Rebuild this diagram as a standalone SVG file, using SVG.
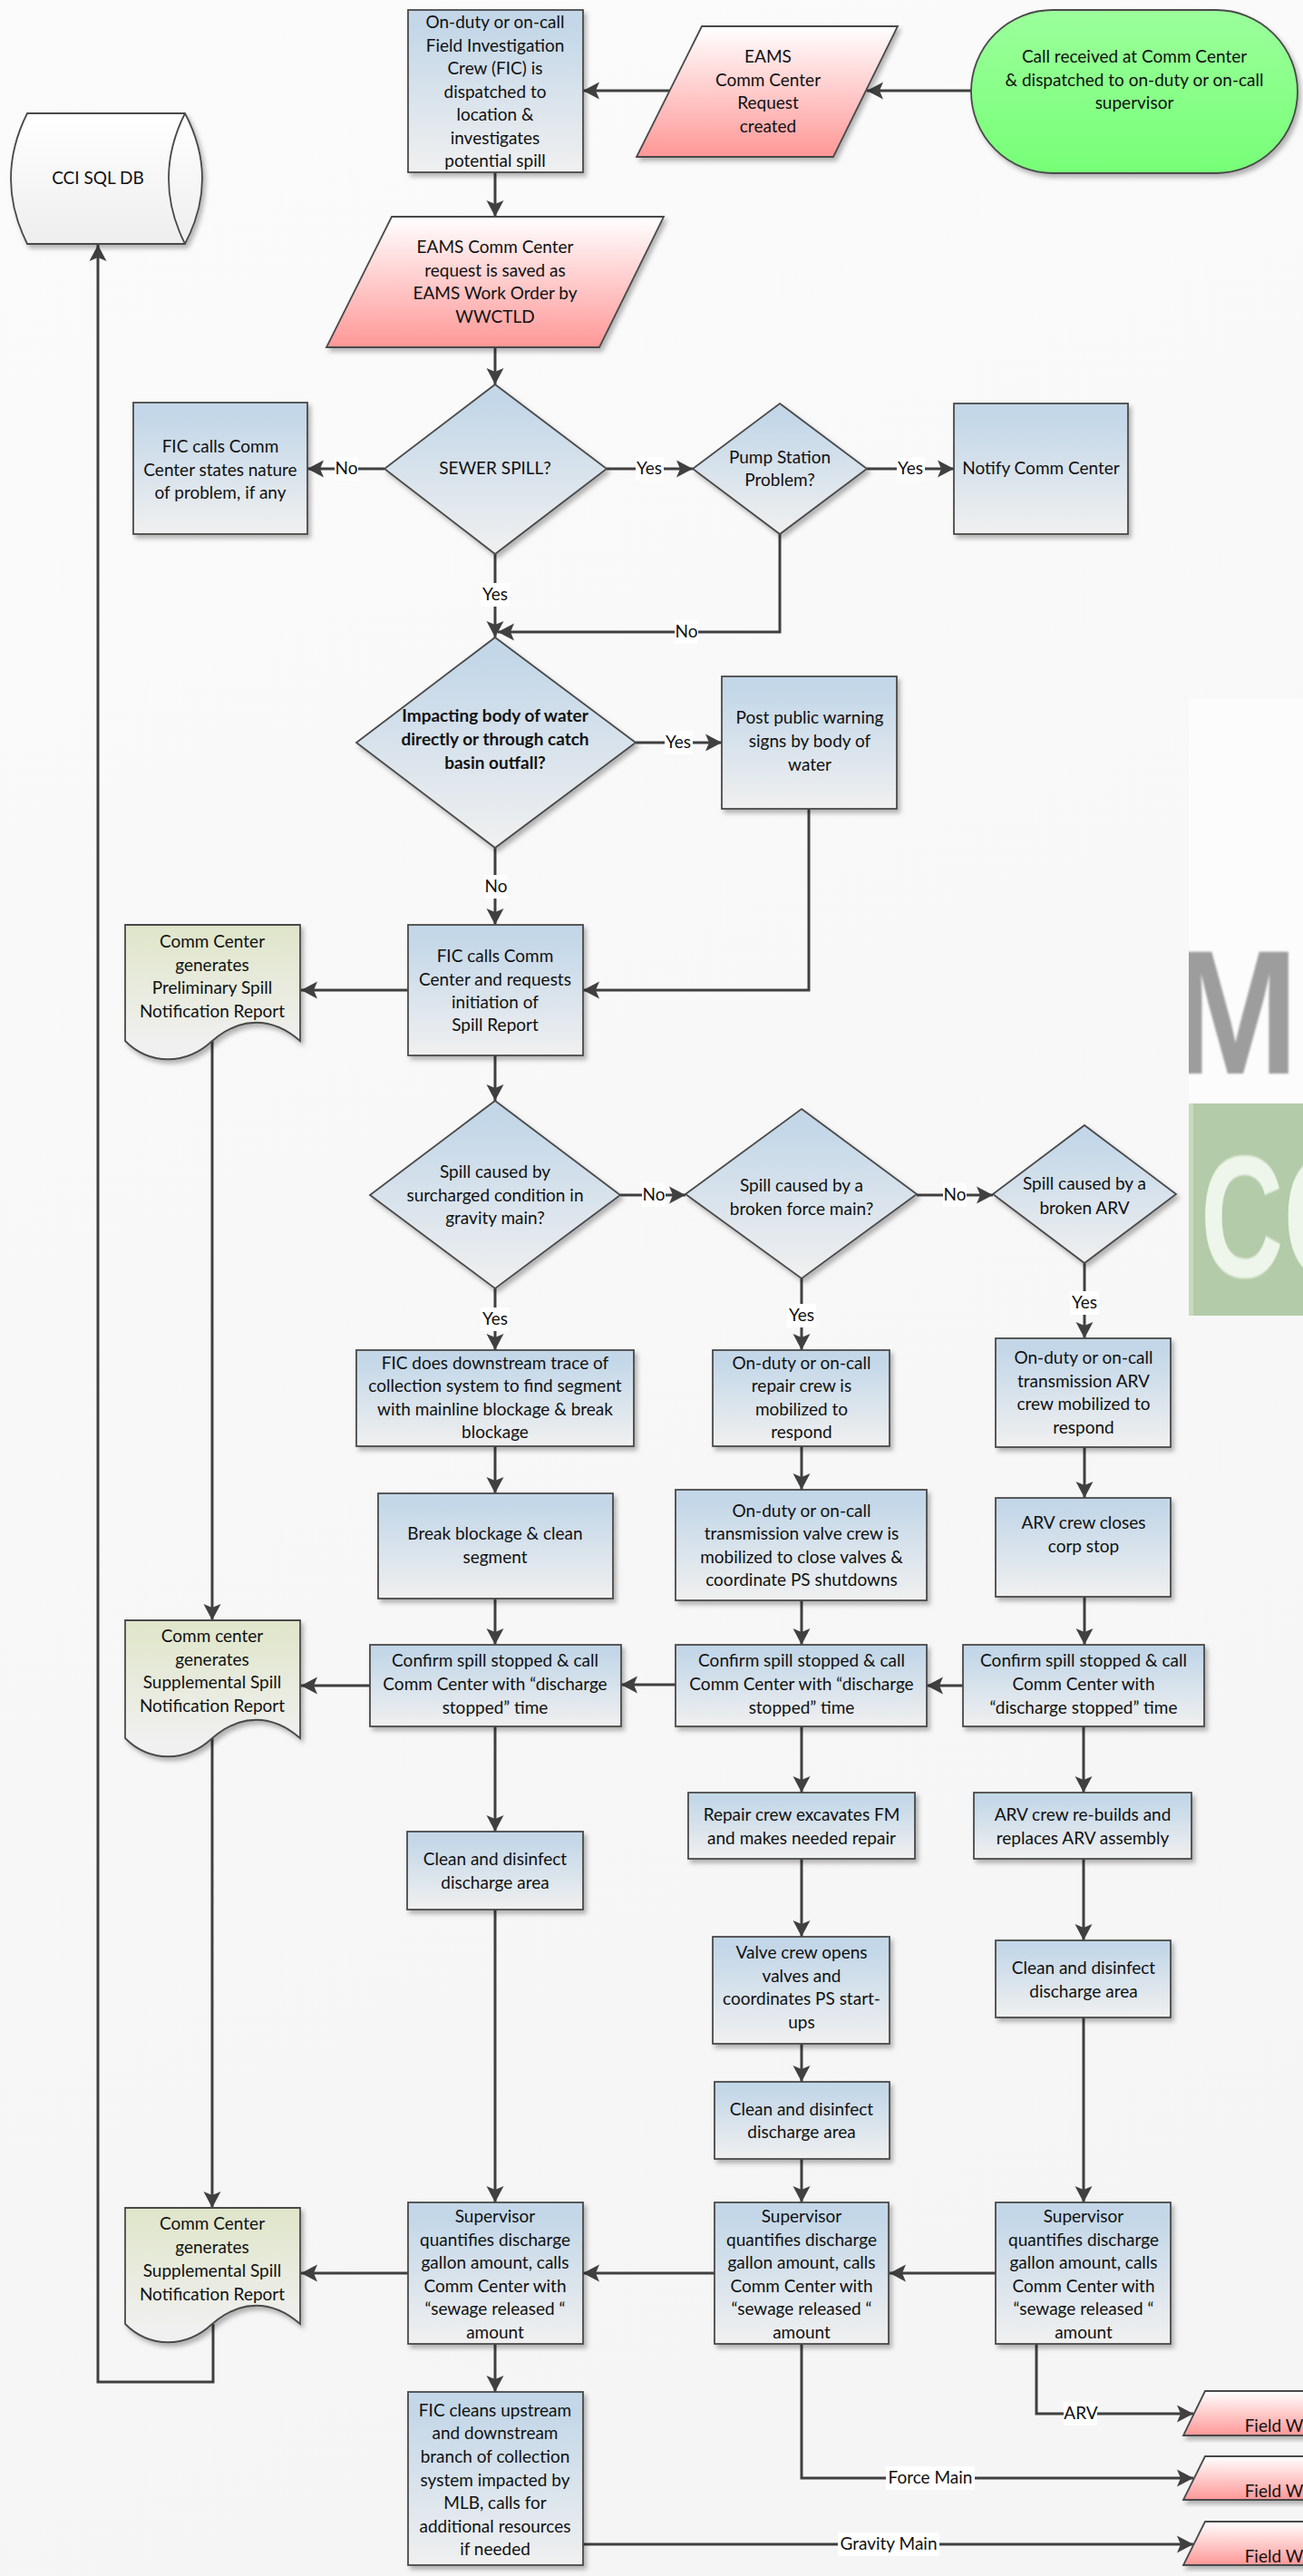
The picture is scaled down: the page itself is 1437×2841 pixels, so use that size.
<svg xmlns="http://www.w3.org/2000/svg" width="1437" height="2841" viewBox="0 0 1437 2841">
<defs>
<linearGradient id="bg" x1="0" y1="0" x2="0.2" y2="1"><stop offset="0" stop-color="#fbfbfb"/><stop offset="1" stop-color="#f5f5f5"/></linearGradient>
<linearGradient id="blue" x1="0" y1="0" x2="0" y2="1"><stop offset="0.1" stop-color="#c3d7e8"/><stop offset="1" stop-color="#f0f0f0"/></linearGradient>
<linearGradient id="red" x1="0" y1="0" x2="0" y2="1"><stop offset="0" stop-color="#ffffff"/><stop offset="1" stop-color="#ff9797"/></linearGradient>
<linearGradient id="green" x1="0" y1="0" x2="0" y2="1"><stop offset="0" stop-color="#9bff9b"/><stop offset="1" stop-color="#77ff77"/></linearGradient>
<linearGradient id="doc" x1="0" y1="0" x2="0" y2="1"><stop offset="0.05" stop-color="#e0e6cb"/><stop offset="0.9" stop-color="#f0f0f0"/></linearGradient>
<linearGradient id="db" x1="0" y1="0" x2="0" y2="1"><stop offset="0" stop-color="#ffffff"/><stop offset="1" stop-color="#eeeeee"/></linearGradient>
<filter id="sh" x="-10%" y="-10%" width="125%" height="125%"><feDropShadow dx="3" dy="4" stdDeviation="2.5" flood-color="#000" flood-opacity="0.28"/></filter>
<filter id="soft" x="-5%" y="-5%" width="110%" height="110%"><feGaussianBlur stdDeviation="1.2"/></filter>
<clipPath id="wm"><rect x="1311" y="770" width="126" height="681"/></clipPath>
<marker id="ah" markerUnits="userSpaceOnUse" markerWidth="20" markerHeight="22" refX="19" refY="11" orient="auto"><path d="M19,11 L1,1.5 L5,11 L1,20.5 Z" fill="#404040"/></marker>
<style>
text{font-family:"Lato","Liberation Sans",sans-serif;font-size:19px;fill:#111;text-anchor:middle}
.s{stroke:#4a4a4a;stroke-width:1.8;filter:url(#sh)}
.b{fill:url(#blue)}.r{fill:url(#red)}.g{fill:url(#green)}.d{fill:url(#doc)}.y{fill:url(#db)}
#connectors path{fill:none;stroke:#404040;stroke-width:3;marker-end:url(#ah)}
#connectors path.n{marker-end:none}
.lb{fill:#fff}
</style>
</defs>
<rect width="1437" height="2841" fill="url(#bg)"/>
<g id="watermark" clip-path="url(#wm)">
<rect x="1311" y="770" width="126" height="681" fill="#fcfcfc"/>
<text x="1293" y="1184" filter="url(#soft)" transform="translate(1293 0) scale(0.86 1) translate(-1293 0)" style="font-family:'Liberation Sans',sans-serif;font-weight:700;font-size:194px;fill:#9d9d9d;text-anchor:start">M</text>
<rect x="1311" y="1217" width="126" height="234" fill="#b3cba8"/>
<rect x="1311" y="1217" width="5" height="234" fill="#c6dcb9"/>
<text x="1324" y="1408" filter="url(#soft)" transform="translate(1324 0) scale(0.66 1) translate(-1324 0)" style="font-family:'Liberation Sans',sans-serif;font-weight:700;font-size:192px;fill:#eef5ea;text-anchor:start">CO</text>
</g>

<g id="connectors">
<path d="M1071,100H956"/><path d="M739,100H643"/><path d="M546,190V239"/><path d="M546,383V424"/>
<path d="M424,517H339"/><path d="M669,517H764"/><path d="M956,517H1052"/><path d="M546,611V703"/>
<path d="M860,589V697H549"/><path d="M701,819H796"/><path d="M546,935V1020"/><path d="M892,892V1092H643"/>
<path d="M450,1092H332"/><path d="M546,1164V1214"/><path d="M684,1318H756"/><path d="M1011,1318H1095"/>
<path d="M546,1421V1489"/><path d="M884,1410V1489"/><path d="M1196,1393V1476"/>
<path d="M546,1595V1647"/><path d="M546,1763V1814"/><path d="M884,1595V1643"/><path d="M884,1765V1814"/>
<path d="M1196,1596V1652"/><path d="M1196,1761V1814"/>
<path d="M1062,1859H1022"/><path d="M745,1858H685"/><path d="M408,1859H332"/>
<path d="M234,1148V1787"/><path d="M234,1917V2435"/>
<path d="M546,1904V2020"/><path d="M546,2106V2429"/>
<path d="M884,1904V1977"/><path d="M884,2050V2136"/><path d="M884,2254V2296"/><path d="M884,2381V2429"/>
<path d="M1195,1904V1977"/><path d="M1195,2050V2140"/><path d="M1195,2225V2429"/>
<path d="M1098,2507H981"/><path d="M788,2507H643"/><path d="M450,2507H332"/>
<path d="M546,2585V2638"/>
<path d="M1143,2585V2662H1316"/><path d="M884,2585V2733H1316"/><path d="M643,2806H1316"/>
<path d="M235,2563V2627H108V270"/>
</g>

<g id="n-db"><path class="s y" d="M30,125H204Q242,197 204,269H30Q-6,197 30,125Z"/><path d="M204,125Q168,197 204,269" fill="none" stroke="#4a4a4a" stroke-width="1.8"/><text x="108" y="203">CCI SQL DB</text></g>
<g id="n-start"><rect class="s g" x="1071" y="11" width="360" height="180" rx="90" ry="90"/><text x="1251" y="69">Call received at Comm Center</text><text x="1251" y="95">&amp; dispatched to on-duty or on-call</text><text x="1251" y="120">supervisor</text></g>
<g id="n-eams"><polygon class="s r" points="774,29 990,29 919,173 702,173"/><text x="847" y="69">EAMS</text><text x="847" y="95">Comm Center</text><text x="847" y="120">Request</text><text x="847" y="146">created</text></g>
<g id="n-fic"><rect class="s b" x="450" y="11" width="193" height="179"/><text x="546" y="31">On-duty or on-call</text><text x="546" y="57">Field Investigation</text><text x="546" y="82">Crew (FIC) is</text><text x="546" y="108">dispatched to</text><text x="546" y="133">location &amp;</text><text x="546" y="159">investigates</text><text x="546" y="184">potential spill</text></g>
<g id="n-wo"><polygon class="s r" points="432,239 732,239 661,383 360,383"/><text x="546" y="279">EAMS Comm Center</text><text x="546" y="305">request is saved as</text><text x="546" y="330">EAMS Work Order by</text><text x="546" y="356">WWCTLD</text></g>
<g id="n-sewer"><polygon class="s b" points="546,424 669,517 546,611 424,517"/><text x="546" y="523">SEWER SPILL?</text></g>
<g id="n-ficcalls"><rect class="s b" x="147" y="444" width="192" height="145"/><text x="243" y="499">FIC calls Comm</text><text x="243" y="525">Center states nature</text><text x="243" y="550">of problem, if any</text></g>
<g id="n-pump"><polygon class="s b" points="860,445 956,517 860,589 764,517"/><text x="860" y="511">Pump Station</text><text x="860" y="536">Problem?</text></g>
<g id="n-notify"><rect class="s b" x="1052" y="445" width="192" height="144"/><text x="1148" y="523">Notify Comm Center</text></g>
<g id="n-impact"><polygon class="s b" points="546,703 701,819 546,935 393,819"/><text x="546" y="796" font-weight="700">Impacting body of water</text><text x="546" y="822" font-weight="700">directly or through catch</text><text x="546" y="848" font-weight="700">basin outfall?</text></g>
<g id="n-post"><rect class="s b" x="796" y="746" width="193" height="146"/><text x="893" y="798">Post public warning</text><text x="893" y="824">signs by body of</text><text x="893" y="850">water</text></g>
<g id="n-report"><rect class="s b" x="450" y="1020" width="193" height="144"/><text x="546" y="1061">FIC calls Comm</text><text x="546" y="1087">Center and requests</text><text x="546" y="1112">initiation of</text><text x="546" y="1137">Spill Report</text></g>
<g id="n-doc1"><path class="s d" d="M138,1020H331V1148C300,1121 265,1121 234,1148C205,1175 165,1175 138,1148Z"/><text x="234" y="1045">Comm Center</text><text x="234" y="1071">generates</text><text x="234" y="1096">Preliminary Spill</text><text x="234" y="1122">Notification Report</text></g>
<g id="n-d1"><polygon class="s b" points="546,1214 684,1318 546,1421 408,1318"/><text x="546" y="1299">Spill caused by</text><text x="546" y="1325">surcharged condition in</text><text x="546" y="1350">gravity main?</text></g>
<g id="n-d2"><polygon class="s b" points="884,1223 1011,1317 884,1410 756,1317"/><text x="884" y="1314">Spill caused by a</text><text x="884" y="1340">broken force main?</text></g>
<g id="n-d3"><polygon class="s b" points="1196,1241 1297,1317 1196,1393 1095,1317"/><text x="1196" y="1312">Spill caused by a</text><text x="1196" y="1339">broken ARV</text></g>
<g id="n-trace"><rect class="s b" x="393" y="1489" width="306" height="106"/><text x="546" y="1510">FIC does downstream trace of</text><text x="546" y="1535">collection system to find segment</text><text x="546" y="1561">with mainline blockage &amp; break</text><text x="546" y="1586">blockage</text></g>
<g id="n-repair"><rect class="s b" x="786" y="1489" width="195" height="106"/><text x="884" y="1510">On-duty or on-call</text><text x="884" y="1535">repair crew is</text><text x="884" y="1561">mobilized to</text><text x="884" y="1586">respond</text></g>
<g id="n-arvcrew"><rect class="s b" x="1098" y="1476" width="193" height="120"/><text x="1195" y="1504">On-duty or on-call</text><text x="1195" y="1530">transmission ARV</text><text x="1195" y="1555">crew mobilized to</text><text x="1195" y="1581">respond</text></g>
<g id="n-break"><rect class="s b" x="417" y="1647" width="259" height="116"/><text x="546" y="1698">Break blockage &amp;  clean</text><text x="546" y="1724">segment</text></g>
<g id="n-valve"><rect class="s b" x="745" y="1643" width="277" height="122"/><text x="884" y="1673">On-duty or on-call</text><text x="884" y="1698">transmission valve crew is</text><text x="884" y="1724">mobilized to close valves &amp;</text><text x="884" y="1749">coordinate PS shutdowns</text></g>
<g id="n-corp"><rect class="s b" x="1098" y="1652" width="193" height="109"/><text x="1195" y="1686">ARV crew closes</text><text x="1195" y="1712">corp stop</text></g>
<g id="n-conf1"><rect class="s b" x="408" y="1814" width="277" height="90"/><text x="546" y="1838">Confirm spill stopped &amp; call</text><text x="546" y="1864">Comm Center with “discharge</text><text x="546" y="1890">stopped” time</text></g>
<g id="n-conf2"><rect class="s b" x="745" y="1814" width="277" height="90"/><text x="884" y="1838">Confirm spill stopped &amp; call</text><text x="884" y="1864">Comm Center with “discharge</text><text x="884" y="1890">stopped” time</text></g>
<g id="n-conf3"><rect class="s b" x="1062" y="1814" width="266" height="90"/><text x="1195" y="1838">Confirm spill stopped &amp; call</text><text x="1195" y="1864">Comm Center with</text><text x="1195" y="1890">“discharge stopped” time</text></g>
<g id="n-doc2"><path class="s d" d="M138,1787H331V1917C300,1890 265,1890 234,1917C205,1944 165,1944 138,1917Z"/><text x="234" y="1811">Comm center</text><text x="234" y="1837">generates</text><text x="234" y="1862">Supplemental Spill</text><text x="234" y="1888">Notification Report</text></g>
<g id="n-clean1"><rect class="s b" x="449" y="2020" width="194" height="86"/><text x="546" y="2057">Clean and disinfect</text><text x="546" y="2083">discharge area</text></g>
<g id="n-excav"><rect class="s b" x="759" y="1977" width="250" height="73"/><text x="884" y="2008">Repair crew excavates FM</text><text x="884" y="2034">and makes needed repair</text></g>
<g id="n-rebuild"><rect class="s b" x="1074" y="1977" width="240" height="73"/><text x="1194" y="2008">ARV crew re-builds and</text><text x="1194" y="2034">replaces ARV assembly</text></g>
<g id="n-open"><rect class="s b" x="786" y="2136" width="195" height="118"/><text x="884" y="2160">Valve crew opens</text><text x="884" y="2186">valves and</text><text x="884" y="2211">coordinates PS start-</text><text x="884" y="2237">ups</text></g>
<g id="n-clean2"><rect class="s b" x="788" y="2296" width="193" height="85"/><text x="884" y="2333">Clean and disinfect</text><text x="884" y="2358">discharge area</text></g>
<g id="n-clean3"><rect class="s b" x="1098" y="2140" width="193" height="85"/><text x="1195" y="2177">Clean and disinfect</text><text x="1195" y="2203">discharge area</text></g>
<g id="n-sup1"><rect class="s b" x="450" y="2429" width="193" height="156"/><text x="546" y="2451">Supervisor</text><text x="546" y="2477">quantifies discharge</text><text x="546" y="2502">gallon amount, calls</text><text x="546" y="2528">Comm Center with</text><text x="546" y="2553">“sewage released “</text><text x="546" y="2579">amount</text></g>
<g id="n-sup2"><rect class="s b" x="788" y="2429" width="192" height="156"/><text x="884" y="2451">Supervisor</text><text x="884" y="2477">quantifies discharge</text><text x="884" y="2502">gallon amount, calls</text><text x="884" y="2528">Comm Center with</text><text x="884" y="2553">“sewage released “</text><text x="884" y="2579">amount</text></g>
<g id="n-sup3"><rect class="s b" x="1098" y="2429" width="193" height="156"/><text x="1195" y="2451">Supervisor</text><text x="1195" y="2477">quantifies discharge</text><text x="1195" y="2502">gallon amount, calls</text><text x="1195" y="2528">Comm Center with</text><text x="1195" y="2553">“sewage released “</text><text x="1195" y="2579">amount</text></g>
<g id="n-doc3"><path class="s d" d="M138,2435H331V2563C300,2536 265,2536 234,2563C205,2590 165,2590 138,2563Z"/><text x="234" y="2459">Comm Center</text><text x="234" y="2485">generates</text><text x="234" y="2511">Supplemental Spill</text><text x="234" y="2537">Notification Report</text></g>
<g id="n-cleans"><rect class="s b" x="450" y="2638" width="193" height="191"/><text x="546" y="2665">FIC cleans upstream</text><text x="546" y="2690">and downstream</text><text x="546" y="2716">branch of collection</text><text x="546" y="2742">system impacted by</text><text x="546" y="2767">MLB, calls for</text><text x="546" y="2793">additional resources</text><text x="546" y="2818">if needed</text></g>
<g id="n-fw1"><polygon class="s r" points="1329,2637 1500,2637 1476,2686 1305,2686"/><text x="1405" y="2682">Field W</text></g>
<g id="n-fw2"><polygon class="s r" points="1329,2709 1500,2709 1476,2757 1305,2757"/><text x="1405" y="2754">Field W</text></g>
<g id="n-fw3"><polygon class="s r" points="1329,2781 1500,2781 1476,2829 1305,2829"/><text x="1405" y="2826">Field W</text></g>

<g id="labels">
<rect class="lb" x="369" y="504" width="26" height="26"/><text x="382" y="523">No</text>
<rect class="lb" x="701" y="504" width="31" height="26"/><text x="716" y="523">Yes</text>
<rect class="lb" x="989" y="504" width="31" height="26"/><text x="1004" y="523">Yes</text>
<rect class="lb" x="530" y="643" width="32" height="26"/><text x="546" y="662">Yes</text>
<rect class="lb" x="744" y="684" width="26" height="26"/><text x="757" y="703">No</text>
<rect class="lb" x="733" y="806" width="31" height="26"/><text x="748" y="825">Yes</text>
<rect class="lb" x="534" y="965" width="26" height="26"/><text x="547" y="984">No</text>
<rect class="lb" x="708" y="1305" width="26" height="26"/><text x="721" y="1324">No</text>
<rect class="lb" x="1040" y="1305" width="26" height="26"/><text x="1053" y="1324">No</text>
<rect class="lb" x="530" y="1442" width="32" height="26"/><text x="546" y="1461">Yes</text>
<rect class="lb" x="868" y="1438" width="32" height="26"/><text x="884" y="1457">Yes</text>
<rect class="lb" x="1180" y="1424" width="32" height="26"/><text x="1196" y="1443">Yes</text>
<rect class="lb" x="1173" y="2649" width="37" height="26"/><text x="1192" y="2668">ARV</text>
<rect class="lb" x="977" y="2720" width="98" height="26"/><text x="1026" y="2739">Force Main</text>
<rect class="lb" x="924" y="2793" width="112" height="26"/><text x="980" y="2812">Gravity Main</text>
</g>
</svg>
